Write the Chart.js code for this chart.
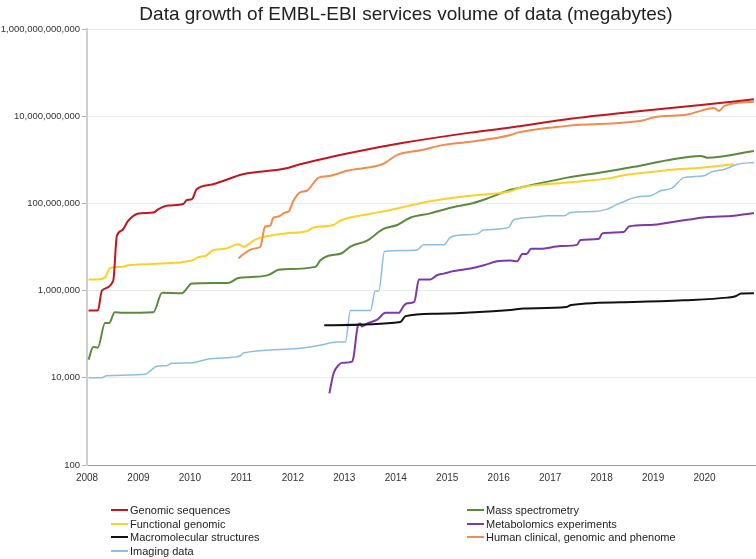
<!DOCTYPE html>
<html>
<head>
<meta charset="utf-8">
<style>
  body { margin: 0; background: #fff; font-family: "Liberation Sans", Arial, sans-serif; }
  #wrap { position: relative; width: 756px; height: 559px; overflow: hidden; }
  #title { position: absolute; left: 0; top: 3px; width: 812px; text-align: center; font-size: 19px; color: #222; }
  .leg { position: absolute; font-size: 11px; color: #222; line-height: 13px; white-space: nowrap; }
  .leg span { display: inline-block; width: 17px; height: 2px; vertical-align: middle; margin-right: 2px; position: relative; top: -1px; }
</style>
</head>
<body>
<div id="wrap">
  <canvas id="myChart" width="756" height="559"></canvas>
  <div id="title">Data growth of EMBL-EBI services volume of data (megabytes)</div>
  <div id="legend"></div>
</div>

<script src="https://cdn.jsdelivr.net/npm/chart.js"></script>
<script>
  // y ticks shown (every two decades)
  const yTickValues = [100, 1e4, 1e6, 1e8, 1e10, 1e12];
  const xTickYears = [2008, 2009, 2010, 2011, 2012, 2013, 2014, 2015, 2016, 2017, 2018, 2019, 2020];

  // Genomic sequences
  const genomicYears  = [2008.03, 2008.21, 2008.29, 2008.51, 2008.58, 2008.68, 2008.80, 2009.00, 2009.29, 2009.39, 2009.58, 2009.87, 2009.94, 2010.04, 2010.13, 2010.43, 2010.68, 2011.01, 2011.85, 2012.14, 2013.25, 2014.15, 2015.45, 2016.23, 2017.33, 2018.62, 2019.93, 2020.96];
  const genomicValues = [3.5e5, 3.5e5, 1.0e6, 1.7e6, 1.8e7, 2.4e7, 4.0e7, 5.9e7, 6.2e7, 7.4e7, 8.9e7, 9.7e7, 1.2e8, 1.25e8, 2.1e8, 2.7e8, 3.4e8, 4.6e8, 6.3e8, 7.9e8, 1.55e9, 2.45e9, 4.2e9, 5.5e9, 8.5e9, 1.26e10, 1.8e10, 2.45e10];

  // Functional genomic
  const functionalYears  = [2008.03, 2008.19, 2008.35, 2008.45, 2008.68, 2008.80, 2009.26, 2010.04, 2010.17, 2010.30, 2010.46, 2010.68, 2010.94, 2011.04, 2011.27, 2011.85, 2012.27, 2012.40, 2012.79, 2012.92, 2013.51, 2013.83, 2014.67, 2015.45, 2016.23, 2016.42, 2017.33, 2018.17, 2018.37, 2019.28, 2019.93, 2020.57];
  const functionalValues = [1.8e6, 1.8e6, 2.0e6, 3.3e6, 3.5e6, 3.8e6, 4.1e6, 4.9e6, 5.9e6, 6.2e6, 8.5e6, 9.1e6, 1.15e7, 1.02e7, 1.48e7, 2.05e7, 2.3e7, 2.8e7, 3.2e7, 4.0e7, 5.8e7, 6.8e7, 1.12e8, 1.5e8, 1.9e8, 2.3e8, 3.0e8, 3.8e8, 4.3e8, 5.8e8, 6.6e8, 7.9e8];

  // Macromolecular structures
  const macroYears  = [2012.61, 2014.09, 2014.19, 2014.80, 2016.23, 2016.49, 2017.32, 2017.41, 2018.62, 2019.60, 2020.44, 2020.60, 2020.71, 2020.96];
  const macroValues = [1.6e5, 1.9e5, 2.6e5, 2.95e5, 3.6e5, 3.9e5, 4.2e5, 4.7e5, 5.5e5, 6.0e5, 6.9e5, 7.4e5, 8.6e5, 8.7e5];

  // Imaging data
  const imagingYears  = [2008.03, 2008.29, 2008.38, 2009.13, 2009.23, 2009.36, 2009.55, 2009.65, 2010.04, 2010.36, 2010.82, 2010.98, 2011.04, 2011.85, 2012.34, 2012.53, 2012.86, 2013.02, 2013.12, 2013.51, 2013.60, 2013.67, 2013.78, 2014.15, 2014.41, 2014.54, 2014.93, 2015.06, 2015.32, 2015.58, 2015.71, 2016.19, 2016.29, 2016.68, 2016.94, 2017.27, 2017.40, 2017.85, 2018.11, 2018.27, 2018.47, 2018.60, 2018.79, 2018.95, 2019.15, 2019.37, 2019.60, 2019.99, 2020.12, 2020.38, 2020.64, 2020.96];
  const imagingValues = [1.0e4, 1.0e4, 1.12e4, 1.2e4, 1.45e4, 1.85e4, 1.9e4, 2.15e4, 2.2e4, 2.7e4, 2.95e4, 3.2e4, 3.7e4, 4.5e4, 5.1e4, 5.6e4, 6.6e4, 6.6e4, 3.5e5, 3.5e5, 9.8e5, 9.8e5, 7.9e6, 8.3e6, 8.5e6, 1.12e7, 1.12e7, 1.65e7, 1.9e7, 2.0e7, 2.45e7, 2.8e7, 4.2e7, 4.8e7, 5.2e7, 5.2e7, 6.2e7, 6.5e7, 7.4e7, 9.1e7, 1.15e8, 1.32e8, 1.45e8, 1.5e8, 1.95e8, 2.25e8, 3.9e8, 4.3e8, 5.2e8, 6.0e8, 7.9e8, 8.7e8];

  // Mass spectrometry
  const massYears  = [2008.03, 2008.12, 2008.21, 2008.35, 2008.43, 2008.54, 2008.68, 2009.29, 2009.46, 2009.84, 2010.04, 2010.75, 2010.94, 2011.20, 2011.53, 2011.72, 2011.85, 2012.44, 2012.53, 2012.69, 2012.95, 2013.12, 2013.44, 2013.76, 2014.03, 2014.28, 2014.67, 2015.13, 2015.45, 2015.78, 2016.23, 2016.49, 2017.33, 2017.98, 2018.63, 2019.28, 2019.93, 2020.05, 2020.96];
  const massValues = [2.6e4, 5.1e4, 4.9e4, 1.8e5, 1.8e5, 3.2e5, 3.1e5, 3.2e5, 8.9e5, 8.7e5, 1.45e6, 1.5e6, 1.95e6, 2.05e6, 2.3e6, 3.0e6, 3.1e6, 3.5e6, 4.9e6, 6.3e6, 7.2e6, 1.02e7, 1.4e7, 2.6e7, 3.2e7, 4.7e7, 5.9e7, 8.3e7, 9.8e7, 1.3e8, 2.05e8, 2.4e8, 3.9e8, 5.1e8, 6.9e8, 9.8e8, 1.23e9, 1.12e9, 1.6e9];

  // Metabolomics experiments
  const metabYears  = [2012.71, 2012.79, 2012.89, 2012.95, 2013.15, 2013.18, 2013.26, 2013.31, 2013.34, 2013.44, 2013.64, 2013.80, 2014.06, 2014.15, 2014.22, 2014.36, 2014.45, 2014.67, 2014.80, 2014.93, 2015.13, 2015.45, 2015.71, 2015.97, 2016.23, 2016.36, 2016.46, 2016.54, 2016.63, 2016.81, 2017.20, 2017.52, 2017.59, 2017.95, 2018.01, 2018.43, 2018.53, 2018.95, 2019.41, 2019.67, 2020.02, 2020.57, 2020.96];
  const metabValues = [4.4e3, 1.25e4, 1.95e4, 2.2e4, 2.35e4, 3.0e4, 1.5e5, 1.75e5, 1.5e5, 1.75e5, 2.15e5, 3.1e5, 3.1e5, 4.4e5, 5.1e5, 5.5e5, 1.8e6, 1.8e6, 2.25e6, 2.45e6, 2.8e6, 3.2e6, 3.8e6, 4.7e6, 4.9e6, 4.7e6, 6.9e6, 6.9e6, 9.1e6, 9.1e6, 1.05e7, 1.12e7, 1.45e7, 1.55e7, 2.05e7, 2.2e7, 2.95e7, 3.2e7, 3.8e7, 4.2e7, 4.8e7, 5.2e7, 6.0e7];

  // Human clinical, genomic and phenome
  const humanYears  = [2010.94, 2011.14, 2011.27, 2011.37, 2011.46, 2011.56, 2011.62, 2011.72, 2011.85, 2011.92, 2012.01, 2012.14, 2012.27, 2012.50, 2012.73, 2013.05, 2013.76, 2014.03, 2014.48, 2014.93, 2015.45, 2016.23, 2016.36, 2017.33, 2018.82, 2019.02, 2019.67, 2020.19, 2020.28, 2020.38, 2020.96];
  const humanValues = [5.5e6, 8.3e6, 9.3e6, 1.02e7, 2.95e7, 3.1e7, 4.7e7, 5.0e7, 6.2e7, 6.5e7, 1.15e8, 1.8e8, 1.95e8, 3.9e8, 4.3e8, 5.6e8, 8.1e8, 1.3e9, 1.65e9, 2.2e9, 2.6e9, 3.7e9, 4.2e9, 6.0e9, 8.1e9, 9.5e9, 1.1e10, 1.55e10, 1.32e10, 1.7e10, 2.15e10];

  const seriesNames = ['Genomic sequences', 'Functional genomic', 'Macromolecular structures', 'Imaging data', 'Mass spectrometry', 'Metabolomics experiments', 'Human clinical, genomic and phenome'];
  const seriesColors = ['#c3161c', '#fbd02c', '#111111', '#8dbde3', '#5b8a3c', '#7a3aa8', '#f28b4e'];
  const seriesYears = [genomicYears, functionalYears, macroYears, imagingYears, massYears, metabYears, humanYears];
  const seriesValues = [genomicValues, functionalValues, macroValues, imagingValues, massValues, metabValues, humanValues];

  const datasets = seriesNames.map((name, i) => ({
    label: name,
    data: seriesYears[i].map((yr, j) => ({ x: yr, y: seriesValues[i][j] })),
    borderColor: seriesColors[i],
    backgroundColor: seriesColors[i],
    borderWidth: name === 'Imaging data' ? 1.5 : 2,
    pointRadius: 0,
    cubicInterpolationMode: 'monotone',
    fill: false
  }));

  // draw in an order where the black line sits on top like in the source
  const drawOrder = [3, 5, 4, 1, 6, 0, 2];
  drawOrder.forEach((idx, k) => { datasets[idx].order = drawOrder.length - k; });

  const tickFont = { family: '"Liberation Sans", Arial, sans-serif', size: 9.5 };

  const chart = new Chart(document.getElementById('myChart').getContext('2d'), {
    type: 'line',
    data: { datasets },
    options: {
      responsive: false,
      animation: false,
      devicePixelRatio: 1,
      layout: { padding: { left: 0, right: 0, top: 29, bottom: 72 } },
      plugins: { legend: { display: false }, tooltip: { enabled: false } },
      scales: {
        x: {
          type: 'linear',
          min: 2008,
          max: 2021,
          afterBuildTicks: (scale) => { scale.ticks = xTickYears.map(v => ({ value: v })); },
          afterFit: (scale) => { scale.height = 22; },
          ticks: { color: '#333', font: { family: tickFont.family, size: 10 }, padding: 7, maxRotation: 0, callback: v => String(v) },
          grid: { display: false, drawTicks: false },
          border: { color: '#9a9a9a', width: 1 }
        },
        y: {
          type: 'logarithmic',
          min: 100,
          max: 1e12,
          afterBuildTicks: (scale) => { scale.ticks = yTickValues.map(v => ({ value: v })); },
          afterFit: (scale) => { scale.width = 87; },
          ticks: { color: '#333', font: tickFont, padding: 2, callback: v => Number(v).toLocaleString('en-US') },
          grid: { color: '#ebebeb', tickColor: '#b5b5b5', tickLength: 5 },
          border: { color: '#cfcfcf', width: 2 }
        }
      }
    }
  });

  // two-column legend under the chart
  const legendSlots = [
    [111, 504], [111, 518], [111, 531], [111, 545],
    [467, 504], [467, 518], [467, 531]
  ];
  const legend = document.getElementById('legend');
  seriesNames.forEach((name, i) => {
    const el = document.createElement('div');
    el.className = 'leg';
    el.style.left = legendSlots[i][0] + 'px';
    el.style.top = legendSlots[i][1] + 'px';
    el.innerHTML = '<span style="background:' + seriesColors[i] + '"></span>' + name;
    legend.appendChild(el);
  });
</script>
</body>
</html>
